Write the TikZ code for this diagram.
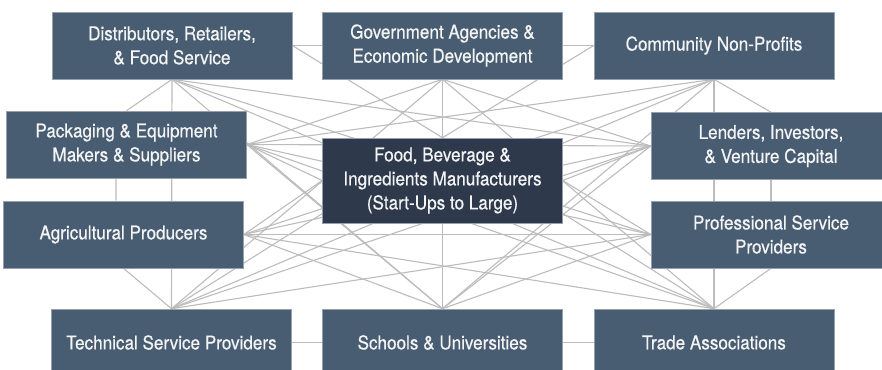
\documentclass[tikz,border=0pt]{standalone}
\usepackage{fontspec}
\setmainfont{TeX Gyre Heros}[FakeStretch=0.9,FakeBold=0.5]
\usetikzlibrary{backgrounds}
\definecolor{boxfill}{RGB}{72,93,114}
\definecolor{centerfill}{RGB}{46,58,76}
\definecolor{boxline}{RGB}{150,160,172}
\definecolor{linkgray}{RGB}{188,188,188}
\definecolor{txt}{RGB}{244,244,244}
\begin{document}
\begin{tikzpicture}[x=1bp,y=-1bp,
  box/.style={draw=boxline, line width=0.6bp, fill=boxfill, text=txt,
    minimum width=240bp, minimum height=67bp, align=center, inner sep=0pt,
    font=\fontsize{19bp}{24bp}\selectfont},
  hub/.style={box, fill=centerfill, minimum height=85bp},
  link/.style={draw=linkgray, line width=1.1bp}]
\useasboundingbox (0,0) rectangle (882,369);
\node[box] (D) at (172,45.5) {Distributors, Retailers,\\\& Food Service};
\node[box] (G) at (442.5,45.5) {Government Agencies \&\\Economic Development};
\node[box] (C) at (714,45.5) {Community Non-Profits};
\node[box] (P) at (126.5,144.5) {Packaging \& Equipment\\Makers \& Suppliers};
\node[hub] (F) at (442.5,180.5) {Food, Beverage \&\\Ingredients Manufacturers\\(Start-Ups to Large)};
\node[box] (L) at (771,146) {Lenders, Investors,\\\& Venture Capital};
\node[box] (A) at (123.5,234.5) {Agricultural Producers};
\node[box] (Pr) at (771,234.5) {Professional Service\\Providers};
\node[box] (T) at (171.5,342.5) {Technical Service Providers};
\node[box] (S) at (442.5,342.5) {Schools \& Universities};
\node[box] (Tr) at (714,342.5) {Trade Associations};
\begin{scope}[on background layer]
% top row
\draw[link] (D.east) -- (G.west);
\draw[link] (G.east) -- (C.west);
\draw[link] (D.east) -- (C.west);
\draw[link] (D.south) -- (P.north);
\draw[link] (C.south) -- (L.north);
\draw[link] (D.east) -- (F.north);
\draw[link] (C.west) -- (F.north);
\draw[link] (D.south) -- (L.west);
\draw[link] (C.south) -- (P.east);
\draw[link] (D.south) -- (Pr.west);
\draw[link] (C.south) -- (A.east);
\draw[link] (D.south) -- (T.north);
\draw[link] (C.south) -- (Tr.north);
\draw[link] (D.south) -- (S.north);
\draw[link] (C.south) -- (S.north);
\draw[link] (D.south) -- (Tr.north);
\draw[link] (C.south) -- (T.north);
\draw[link] (G.south) -- (P.east);
\draw[link] (G.south) -- (L.west);
\draw[link] (G.south) -- (F.north);
\draw[link] (G.south) -- (S.north);
\draw[link] (G.south) -- (T.north);
\draw[link] (G.south) -- (Tr.north);
% middle
\draw[link] ([xshift=-10.5bp]P.south) -- ([xshift=-7.5bp]A.north);
\draw[link] (L.south) -- (Pr.north);
\draw[link] (P.east) -- (F.west);
\draw[link] (L.west) -- (F.east);
\draw[link] (P.east) -- (L.west);
\draw[link] (A.east) -- (Pr.west);
\draw[link] (P.east) -- (Pr.west);
\draw[link] (L.west) -- (A.east);
\draw[link] (A.east) -- (F.west);
\draw[link] (Pr.west) -- (F.east);
\draw[link] (P.east) -- (S.north);
\draw[link] (L.west) -- (S.north);
\draw[link] (P.east) -- (Tr.north);
\draw[link] (L.west) -- (T.north);
\draw[link] (A.east) -- (S.north);
\draw[link] (Pr.west) -- (S.north);
\draw[link] (A.east) -- (Tr.north);
\draw[link] (Pr.west) -- (T.north);
\draw[link] (A.south) -- (T.north);
\draw[link] (Pr.south) -- (Tr.north);
\draw[link] (F.south) -- (S.north);
\draw[link] (F.north) -- (T.north);
\draw[link] (F.north) -- (Tr.north);
% bottom row
\draw[link] (T.east) -- (S.west);
\draw[link] (S.east) -- (Tr.west);
\draw[link] (T.east) -- (Tr.west);
\end{scope}
\end{tikzpicture}
\end{document}
